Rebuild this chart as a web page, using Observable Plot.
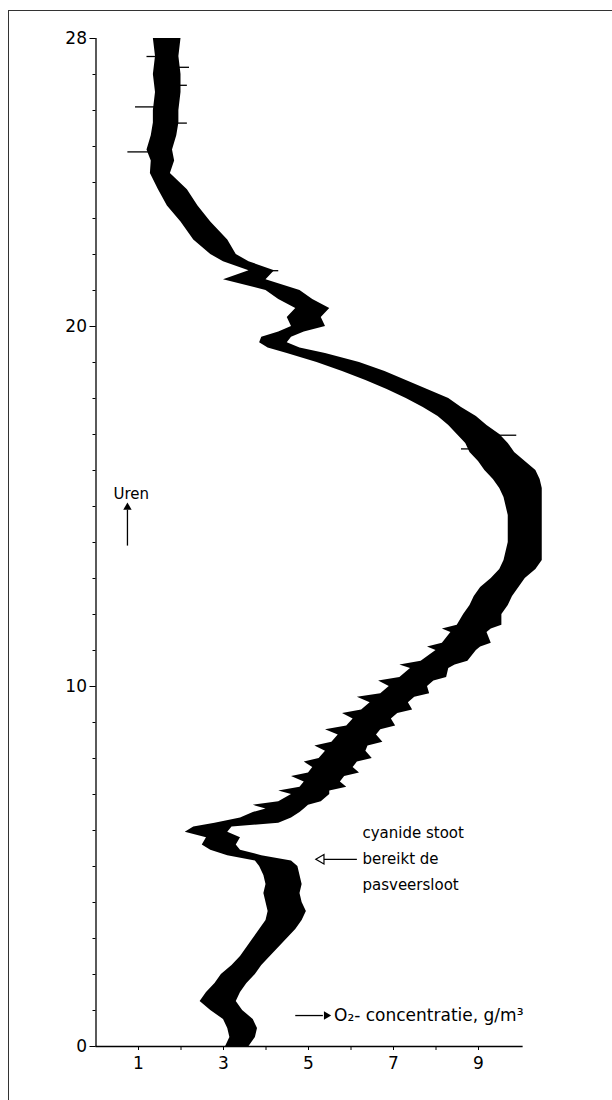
<!DOCTYPE html>
<html><head><meta charset="utf-8">
<script src="https://cdn.jsdelivr.net/npm/d3@7"></script>
<script src="https://cdn.jsdelivr.net/npm/@observablehq/plot@0.6"></script>
<style>
body{margin:0;background:#fff;}
#wrap{position:relative;width:612px;height:1100px;overflow:hidden;}
#frame{position:absolute;left:8px;top:10px;right:-2px;bottom:-2px;border-left:1px solid #333;border-top:1px solid #333;pointer-events:none;}
</style></head><body><div id="wrap"><div id="frame"></div></div>
<script>
// Recorder trace: hours (Uren) with left / right edge of the O2 band (g/m3), in four segments
const hoursA = [0.0,0.25,0.5,0.75,1.0,1.25,1.5,1.75,2.0,2.25,2.5,2.75,3.0,3.25,3.5,3.75,4.0,4.25,4.5,4.75,5.0,5.15,5.3,5.45,5.6,5.8,5.95,6.1,6.2,6.35];
const lowA   = [3.05,3.15,3.1,3.0,2.7,2.45,2.6,2.8,2.95,3.2,3.4,3.55,3.7,3.85,4.0,4.05,4.0,3.95,4.0,3.95,3.85,3.75,3.1,2.7,2.5,2.6,2.1,2.3,2.8,3.4];
const highA  = [3.6,3.75,3.8,3.7,3.45,3.3,3.4,3.55,3.75,3.9,4.1,4.3,4.5,4.7,4.85,4.95,4.85,4.8,4.85,4.8,4.75,4.6,3.9,3.4,3.3,3.4,3.1,3.2,4.3,4.6];

const hoursB = [6.5,6.6,6.7,6.8,7.0,7.1,7.2,7.35,7.5,7.6,7.75,7.9,8.0,8.2,8.35,8.45,8.65,8.8,8.9,9.1,9.25,9.35,9.55,9.7,9.8,10.0,10.15,10.25,10.5,10.6,10.7,11.0,11.1,11.2,11.5,11.6,11.7,12.0,12.25,12.5,12.75];
const lowB   = [3.7,4.0,3.7,4.3,4.6,4.3,4.8,4.9,4.6,5.0,5.1,4.9,5.25,5.4,5.15,5.55,5.7,5.4,5.9,6.05,5.8,6.25,6.45,6.15,6.7,6.9,6.65,7.15,7.4,7.15,7.65,8.0,7.8,8.15,8.35,8.15,8.5,8.65,8.8,8.9,9.05];
const highB  = [4.8,4.9,5.0,5.3,5.5,5.5,5.9,5.75,5.85,6.2,6.05,6.15,6.5,6.35,6.4,6.75,6.6,6.7,7.05,6.95,7.1,7.45,7.35,7.5,7.85,7.8,7.95,8.25,8.3,8.45,8.75,8.95,9.05,9.3,9.2,9.3,9.55,9.55,9.7,9.8,9.95];

const hoursC = [13.0,13.25,13.5,13.75,14.0,14.25,14.5,14.75,15.0,15.25,15.5,15.75,16.0,16.25,16.5,16.75,17.0,17.25,17.5,17.75,18.0,18.25,18.5,18.75,19.0,19.25,19.4];
const lowC   = [9.3,9.5,9.6,9.65,9.7,9.7,9.7,9.7,9.65,9.6,9.5,9.35,9.15,9.0,8.8,8.7,8.5,8.3,8.05,7.7,7.3,6.85,6.35,5.8,5.2,4.5,4.05];
const highC  = [10.1,10.35,10.5,10.5,10.5,10.5,10.5,10.5,10.5,10.5,10.5,10.45,10.35,10.1,9.85,9.7,9.5,9.2,8.95,8.6,8.3,7.8,7.3,6.8,6.2,5.4,4.8];

const hoursD = [19.55,19.7,19.85,20.0,20.25,20.5,20.75,21.0,21.3,21.55,21.8,22.0,22.4,22.9,23.35,23.8,24.25,24.6,24.9,25.3,25.65,26.0,26.5,27.0,27.5,28.0];
const lowD   = [3.85,3.9,4.3,4.6,4.5,4.7,4.3,4.0,3.0,3.6,3.0,2.7,2.3,2.0,1.68,1.47,1.28,1.3,1.2,1.3,1.35,1.35,1.4,1.35,1.4,1.35];
const highD  = [4.5,4.6,4.9,5.4,5.3,5.5,5.1,4.8,4.0,4.2,3.6,3.3,3.1,2.7,2.4,2.15,1.75,1.85,1.8,1.9,1.95,1.95,2.0,2.0,1.95,2.0];

// Isolated noise spikes of the recorder pen
const spikeHours = [24.85,26.1,16.98,16.6,21.55,27.2,26.7,25.65,27.5];
const spikeFrom  = [0.75,0.93,9.4,8.6,4.0,1.9,1.9,1.9,1.2];
const spikeTo    = [1.3,1.4,9.9,8.9,4.3,2.2,2.15,2.15,1.45];

const yTicks = d3.range(0, 29);
const yLabels = [0, 10, 20, 28];
const xTicks = [1, 2, 3, 4, 5, 6, 7, 8, 9];
const xLabels = [1, 3, 5, 7, 9];

const noteLines = ["cyanide stoot", "bereikt de", "pasveersloot"];
const noteHours = [5.93, 5.2, 4.49];
const yTitle = "Uren";
const xTitle = "O₂- concentratie, g/m³";

const trace = [
  ...hoursA.map((h, i) => ({h, lo: lowA[i], hi: highA[i]})),
  ...hoursB.map((h, i) => ({h, lo: lowB[i], hi: highB[i]})),
  ...hoursC.map((h, i) => ({h, lo: lowC[i], hi: highC[i]})),
  ...hoursD.map((h, i) => ({h, lo: lowD[i], hi: highD[i]}))
];
const spikes = spikeHours.map((h, i) => ({h, a: spikeFrom[i], b: spikeTo[i]}));
const notes = noteLines.map((t, i) => ({t, h: noteHours[i]}));

const chart = Plot.plot({
  width: 612,
  height: 1100,
  marginLeft: 95.5,
  marginRight: 70.25,
  marginTop: 38,
  marginBottom: 54,
  style: {fontFamily: "'DejaVu Sans', sans-serif", fontSize: "17px", color: "black", background: "transparent"},
  x: {domain: [0, 10.5], label: null},
  y: {domain: [0, 28], label: null},
  marks: [
    Plot.areaX(trace, {y: "h", x1: "lo", x2: "hi", fill: "black", curve: "linear"}),
    Plot.ruleY(spikes, {y: "h", x1: "a", x2: "b", stroke: "black", strokeWidth: 1.3}),
    Plot.ruleX([0], {y1: 0, y2: 28, stroke: "black", strokeWidth: 1.3}),
    Plot.ruleY([0], {x1: 0, x2: 10.05, stroke: "black", strokeWidth: 1.3}),
    Plot.axisY({ticks: yTicks, tickSize: 3, tickFormat: () => "", label: null}),
    Plot.axisY({ticks: yLabels, tickSize: 6, tickPadding: 3, fontSize: 17, label: null}),
    Plot.axisX({ticks: xTicks, tickSize: 4, tickFormat: () => "", label: null}),
    Plot.axisX({ticks: xLabels, tickSize: 0, tickPadding: 10, fontSize: 17, label: null}),
    // "Uren" with upward arrow
    Plot.text([yTitle], {x: 0.41, y: 15.35, text: d => d, textAnchor: "start", fontSize: 15}),
    Plot.ruleX([0.74], {y1: 13.9, y2: 14.9, stroke: "black", strokeWidth: 1.3}),
    Plot.dot([0], {x: 0.74, y: 14.98, symbol: "triangle2", r: 4, fill: "black", stroke: "none"}),
    // O2 concentration label with right arrow
    Plot.ruleY([0.86], {x1: 4.7, x2: 5.35, stroke: "black", strokeWidth: 1.3}),
    Plot.dot([0], {x: 5.42, y: 0.86, symbol: "triangle2", r: 4, rotate: 90, fill: "black", stroke: "none"}),
    Plot.text([xTitle], {x: 5.6, y: 0.86, text: d => d, textAnchor: "start", fontSize: 17}),
    // cyanide note with left arrow
    Plot.ruleY([5.2], {x1: 5.35, x2: 6.15, stroke: "black", strokeWidth: 1.2}),
    Plot.dot([0], {x: 5.3, y: 5.2, symbol: "triangle2", r: 4.5, rotate: -90, fill: "white", stroke: "black", strokeWidth: 1.2}),
    Plot.text(notes, {x: 6.27, y: "h", text: "t", textAnchor: "start", fontSize: 15})
  ]
});
document.getElementById("wrap").prepend(chart);
</script>
</body></html>
